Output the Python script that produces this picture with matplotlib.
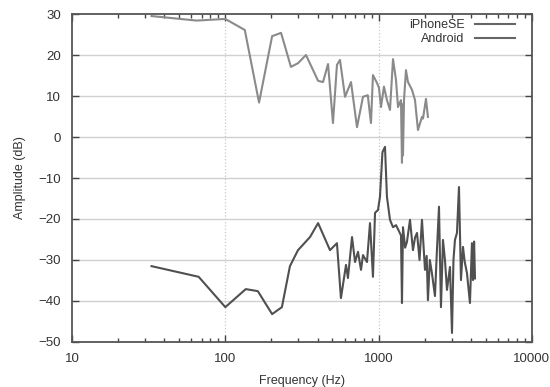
import matplotlib
matplotlib.use("Agg")
import matplotlib.pyplot as plt
from matplotlib.ticker import LogLocator, NullFormatter

# ---- data ----
iphone_freq = [33, 65, 100, 134, 166, 202, 231, 268, 298, 336, 403, 434, 468, 504,
               535, 560, 604, 661, 723, 791, 850, 892, 919, 976, 1006, 1037, 1084,
               1134, 1187, 1242, 1299, 1339, 1400, 1421, 1432, 1443, 1465, 1509, 1555,
               1652, 1728, 1807, 1919, 1949, 2038, 2099]
iphone_db = [29.5, 28.4, 28.8, 26.1, 8.4, 24.6, 25.4, 17.1, 18.0, 20.0, 13.7, 13.4, 17.8, 3.4,
             17.6, 18.8, 9.8, 13.4, 2.4, 9.8, 10.2, 3.4, 15.1, 13.2, 12.0, 7.3, 12.3,
             9.0, 6.6, 19.0, 13.9, 7.3, 9.0, -6.3, 8.0, -4.5, 9.0, 16.3, 13.4,
             11.5, 9.0, 1.7, 4.9, 4.5, 9.3, 4.9]

android_freq = [33, 67, 100, 136, 163, 202, 234, 264, 298, 357, 403, 482, 535, 568, 613,
                631, 671, 702, 734, 768, 791, 840, 879, 919, 948, 991, 1021, 1060, 1101,
                1134, 1187, 1242, 1300, 1339, 1400, 1421, 1443, 1490, 1531, 1603, 1676,
                1730, 1781, 1850, 1919, 2008, 2060, 2099, 2160, 2228, 2333, 2400, 2478,
                2553, 2631, 2710, 2794, 2923, 3013, 3080, 3150, 3246, 3346, 3448, 3553,
                3650, 3773, 3946, 4066, 4130, 4200, 4256]
android_db = [-31.5, -34.1, -41.5, -37.1, -37.6, -43.2, -41.5, -31.5, -27.6, -24.4, -21.0,
              -27.6, -25.9, -39.3, -31.2, -34.4, -24.4, -30.5, -28.0, -32.4, -28.8, -30.5,
              -21.0, -34.1, -18.5, -17.8, -14.6, -3.7, -2.4, -14.6, -20.2, -22.0, -21.5,
              -22.5, -24.0, -40.5, -22.0, -27.0, -25.6, -20.2, -27.6, -24.5, -23.4, -30.0,
              -20.2, -32.4, -29.0, -39.8, -30.0, -33.2, -38.8, -28.0, -17.0, -41.5, -25.1,
              -30.0, -37.3, -31.7, -47.8, -30.0, -25.1, -23.4, -12.2, -34.9, -26.8, -30.5,
              -33.2, -40.5, -25.9, -34.9, -25.5, -34.5]

y_ticks = [-50, -40, -30, -20, -10, 0, 10, 20, 30]
x_ticks = [10, 100, 1000, 10000]
x_tick_labels = ["10", "100", "1000", "10000"]

plt.rcParams['font.family'] = ['Liberation Sans', 'DejaVu Sans']

fig = plt.figure(figsize=(5.5, 3.87), dpi=100)
ax = fig.add_axes([0.131, 0.1163, 0.836, 0.8475])

ax.set_xscale('log')
ax.set_xlim(10, 10000)
ax.set_ylim(-50, 30)

# grid
for y in y_ticks[1:-1]:
    ax.axhline(y, color='#d0d0d0', lw=1.0, zorder=0)
for x in [100, 1000]:
    ax.axvline(x, color='#c8c8c8', lw=0.9, ls=':', zorder=0)

ax.plot(iphone_freq, iphone_db, color='#8a8a8a', lw=1.5, label='iPhoneSE', zorder=3)
ax.plot(android_freq, android_db, color='#505050', lw=1.5, label='Android', zorder=3)

ax.set_xticks(x_ticks)
ax.set_xticklabels(x_tick_labels)
ax.xaxis.set_minor_locator(LogLocator(base=10, subs=range(2, 10)))
ax.xaxis.set_minor_formatter(NullFormatter())
ax.set_yticks(y_ticks)

ax.tick_params(axis='both', which='both', direction='in', top=True, right=True,
               colors='#444444', labelcolor='#333333', labelsize=9.5)
ax.tick_params(which='major', length=5, width=1)
ax.tick_params(which='minor', length=3, width=1)
ax.tick_params(axis='y', which='major', pad=8)
ax.tick_params(axis='x', which='major', pad=8)
for s in ax.spines.values():
    s.set_color('#555555')
    s.set_linewidth(1.3)

ax.set_xlabel('Frequency (Hz)', fontsize=9, color='#333333', labelpad=7)
ax.set_ylabel('Amplitude (dB)', fontsize=9, color='#333333', labelpad=9)

leg = ax.legend(loc='upper right', frameon=False, markerfirst=False, fontsize=9,
                handlelength=3.2, handletextpad=0.8, borderaxespad=0.0, borderpad=0.0,
                labelspacing=0.2, bbox_to_anchor=(0.963, 0.985))
for h in leg.get_lines():
    h.set_color('#666666')
for t in leg.get_texts():
    t.set_color('#333333')

fig.savefig('out.png', dpi=100)
